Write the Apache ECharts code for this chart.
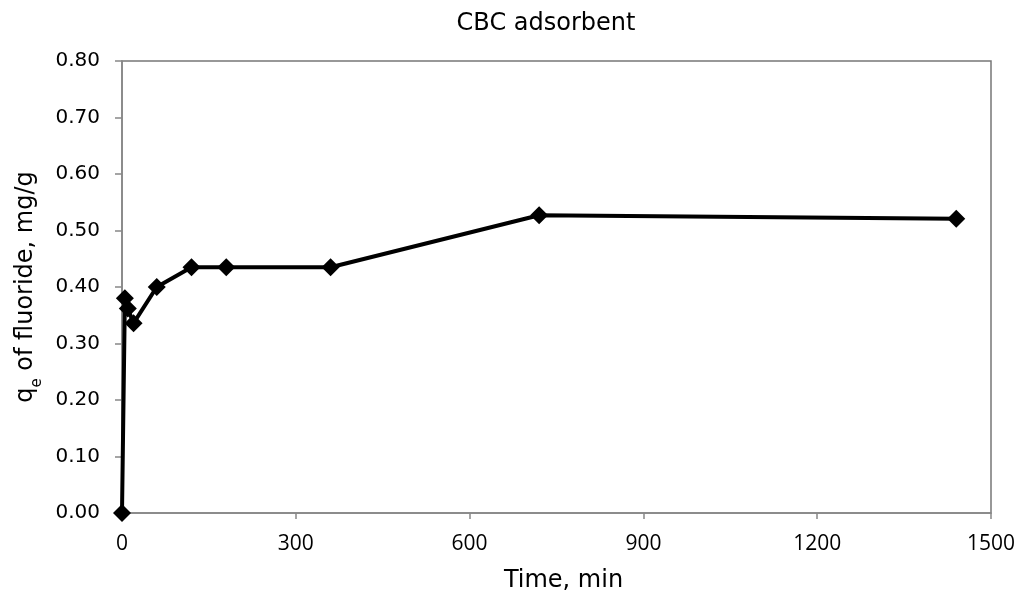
<!DOCTYPE html>
<html>
<head>
<meta charset="utf-8">
<script src="https://cdn.jsdelivr.net/npm/echarts@6/dist/echarts.min.js"></script>
<style>
html,body{margin:0;padding:0;background:#fff;}
#chart{width:1021px;height:604px;}
</style>
</head>
<body>
<div id="chart"></div>
<script>
const titleText = 'CBC adsorbent';
const timeMin = [0, 5, 10, 20, 60, 120, 180, 360, 720, 1440];
const qe = [0, 0.380, 0.362, 0.336, 0.400, 0.435, 0.435, 0.435, 0.527, 0.521];
const xTicks = [0, 300, 600, 900, 1200, 1500];
const yTicks = [0, 0.1, 0.2, 0.3, 0.4, 0.5, 0.6, 0.7, 0.8];

const chart = echarts.init(document.getElementById('chart'));
const labelFont = 'Open Sans';
const textFont = 'DejaVu Sans';
chart.setOption({
  animation: false,
  backgroundColor: '#fff',
  title: {
    text: titleText,
    left: 541, top: 7, textAlign: 'center',
    textStyle: {fontFamily: textFont, fontSize: 24, fontWeight: 'normal', color: '#000'}
  },
  grid: {left: 122, right: 30, top: 61, bottom: 91, show: true, borderColor: '#777', borderWidth: 1.5},
  xAxis: {
    type: 'value', min: xTicks[0], max: xTicks[xTicks.length - 1], interval: 300,
    name: 'Time, min', nameLocation: 'middle', nameGap: 56,
    nameTextStyle: {fontFamily: textFont, fontSize: 24, color: '#000', padding: [0, 0, 0, 14]},
    axisLine: {lineStyle: {color: '#888', width: 1.5}},
    axisTick: {inside: false, length: 6, lineStyle: {color: '#888', width: 1.5}},
    axisLabel: {margin: 21, fontFamily: labelFont, fontSize: 21, color: '#000', formatter: v => String(v)},
    splitLine: {show: false}
  },
  yAxis: {
    type: 'value', min: yTicks[0], max: yTicks[yTicks.length - 1], interval: 0.1,
    name: '{q|q}{sub|e}{n| of fluoride, mg/g}', nameLocation: 'middle', nameGap: 74, nameRotate: 90,
    nameTextStyle: {
      color: '#000',
      rich: {
        q: {fontFamily: textFont, fontSize: 24, color: '#000'},
        sub: {fontFamily: textFont, fontSize: 15, color: '#000', verticalAlign: 'bottom', padding: [0, 0, -7, 0]},
        n: {fontFamily: textFont, fontSize: 24, color: '#000'}
      }
    },
    axisLine: {show: true, lineStyle: {color: '#888', width: 1.5}},
    axisTick: {show: true, inside: false, length: 7, lineStyle: {color: '#888', width: 1.5}},
    axisLabel: {margin: 22, fontFamily: textFont, fontSize: 20, color: '#000', formatter: v => v.toFixed(2)},
    splitLine: {show: false}
  },
  series: [{
    type: 'line',
    data: timeMin.map((t, i) => [t, qe[i]]),
    symbol: 'diamond', symbolSize: 18,
    itemStyle: {color: '#000'},
    lineStyle: {color: '#000', width: 4},
    clip: false
  }]
});
</script>
</body>
</html>
